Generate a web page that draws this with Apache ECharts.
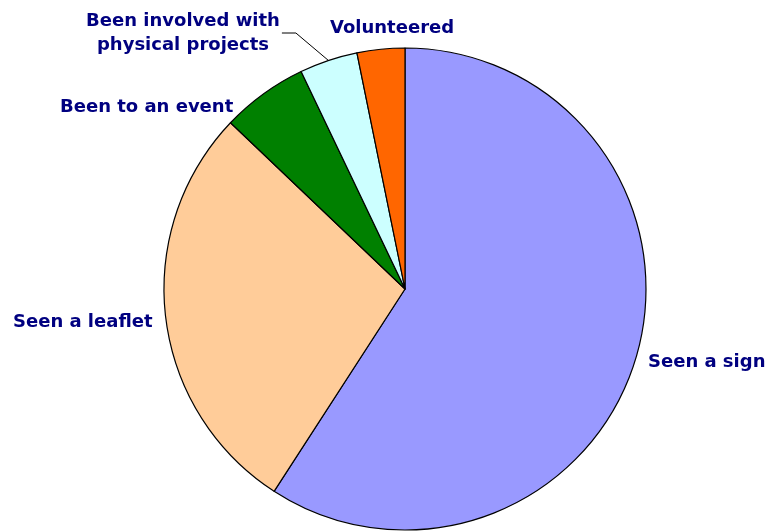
<!DOCTYPE html>
<html>
<head>
<meta charset="utf-8">
<script src="https://cdn.jsdelivr.net/npm/echarts@6/dist/echarts.min.js"></script>
<style>
  html, body { margin: 0; padding: 0; background: #fff; }
  #chart { width: 771px; height: 532px; }
</style>
</head>
<body>
<div id="chart"></div>
<script>
// Survey responses: how people have come across the scheme (share, %)
const categories = [
  'Seen a sign',
  'Seen a leaflet',
  'Been to an event',
  'Been involved with\nphysical projects',
  'Volunteered'
];
const shares = [59.2, 28.0, 5.8, 3.9, 3.2];
const sliceColors = ['#9999FF', '#FFCC99', '#008000', '#CCFFFF', '#FF6600'];

// Where each label sits (centre of the text block) and how it is aligned
const labelSpots = [
  { x: 648, y: 362, align: 'left' },
  { x: 13,  y: 322, align: 'left' },
  { x: 60,  y: 107, align: 'left' },
  { x: 183, y: 33,  align: 'center' },
  { x: 330, y: 28,  align: 'left' }
];
const leaderIndex = 3;

const chart = echarts.init(document.getElementById('chart'), null, { renderer: 'canvas' });

chart.setOption({
  animation: false,
  backgroundColor: '#ffffff',
  series: [{
    type: 'pie',
    center: [405, 289],
    radius: 241,
    startAngle: 90,
    clockwise: true,
    avoidLabelOverlap: false,
    itemStyle: { borderColor: '#000000', borderWidth: 1.2 },
    emphasis: { disabled: true },
    label: {
      show: true,
      position: 'outside',
      formatter: '{b}',
      color: '#000080',
      fontFamily: '"DejaVu Sans", sans-serif',
      fontWeight: 'bold',
      fontSize: 18,
      lineHeight: 24
    },
    labelLine: {
      show: true,
      length: 10,
      length2: 10,
      lineStyle: { color: '#000000', width: 1 }
    },
    labelLayout: function (params) {
      const spot = labelSpots[params.dataIndex];
      const out = {
        x: spot.x,
        y: spot.y,
        align: spot.align,
        verticalAlign: 'middle',
        hideOverlap: false
      };
      if (params.dataIndex === leaderIndex && params.labelLinePoints) {
        const edge = params.labelLinePoints[0];
        const halfW = params.labelRect.width / 2;
        const startX = spot.x + halfW + 2;
        out.labelLinePoints = [
          [edge[0], edge[1]],
          [startX + 14, spot.y],
          [startX, spot.y]
        ];
      }
      return out;
    },
    data: categories.map(function (name, i) {
      return {
        name: name,
        value: shares[i],
        itemStyle: { color: sliceColors[i] },
        labelLine: { show: i === leaderIndex }
      };
    })
  }]
});
</script>
</body>
</html>
